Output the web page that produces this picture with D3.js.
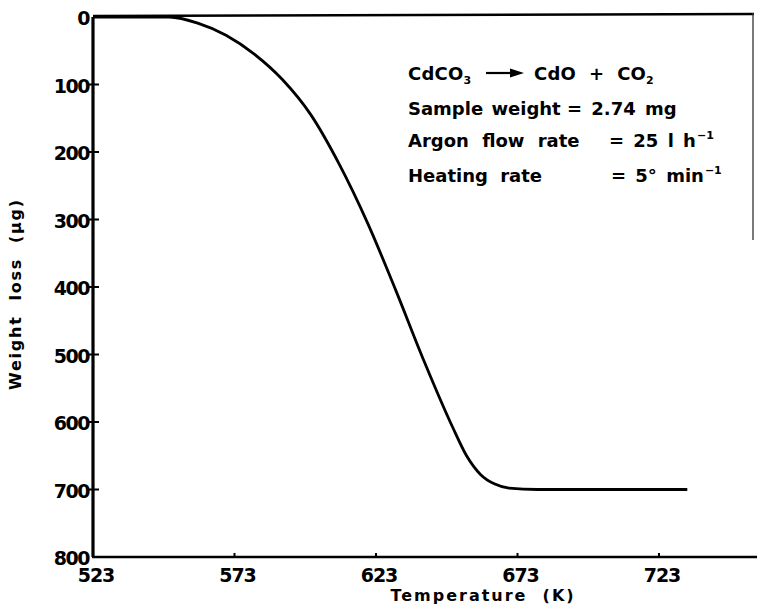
<!DOCTYPE html>
<html>
<head>
<meta charset="utf-8">
<script src="https://cdn.jsdelivr.net/npm/d3@7"></script>
<style>
  html, body { margin: 0; padding: 0; background: #fff; }
  svg { display: block; }
  text { font-family: "DejaVu Sans", sans-serif; font-weight: bold; fill: #000; }
</style>
</head>
<body>
<svg id="chart" width="757" height="607"></svg>
<script>
// ---- data ----
const temperature = [523, 550, 560, 570, 580, 590, 600, 610, 620, 630, 640, 650, 655, 660, 665, 670, 680, 700, 733];
const weightLoss  = [0,   0,   9,   27,  55,  93,  145, 218, 305, 405, 510, 607, 650, 678, 692, 698, 700, 700, 700];
const xTicks = [523, 573, 623, 673, 723];
const yTicks = [0, 100, 200, 300, 400, 500, 600, 700, 800];
const xTitle = "Temperature  (K)";
const yTitle = "Weight  loss  (\u03bcg)";
const infoLabels = ["Sample weight", "Argon flow rate", "Heating rate"];
const infoValues = ["= 2.74 mg", "= 25 l h", "= 5\u00b0 min"];
const infoSups = ["", "\u22121", "\u22121"];

// ---- layout ----
const svg = d3.select("#chart");
const x = d3.scaleLinear().domain([523, 723]).range([93, 659]);
const y = d3.scaleLinear().domain([0, 800]).range([17, 557]);

// frame: top line and partial right line
svg.append("line").attr("x1", x(523)).attr("x2", 754).attr("y1", y(0) - 1).attr("y2", y(0) - 3)
  .attr("stroke", "#000").attr("stroke-width", 2.5);
svg.append("line").attr("x1", 753).attr("x2", 753).attr("y1", y(0) - 4).attr("y2", 240)
  .attr("stroke", "#333").attr("stroke-width", 1.3);

// y axis
svg.append("line").attr("x1", x(523)).attr("x2", x(523)).attr("y1", y(0)).attr("y2", y(800))
  .attr("stroke", "#000").attr("stroke-width", 3.2);
const yg = svg.append("g");
yg.selectAll("line.tick").data(yTicks.filter(d => d > 0 && d < 800)).enter().append("line")
  .attr("x1", x(523) - 4).attr("x2", x(523) + 6)
  .attr("y1", d => y(d)).attr("y2", d => y(d))
  .attr("stroke", "#000").attr("stroke-width", 2);
yg.selectAll("text").data(yTicks).enter().append("text")
  .attr("x", x(523) - 4).attr("y", d => y(d) + 8)
  .attr("text-anchor", "end").attr("font-size", 19).attr("letter-spacing", -1.5)
  .text(d => d);

// x axis
svg.append("line").attr("x1", x(523) - 1).attr("x2", 757).attr("y1", y(800)).attr("y2", y(800))
  .attr("stroke", "#000").attr("stroke-width", 2.5);
const xg = svg.append("g");
xg.selectAll("line.tick").data(xTicks.filter(d => d > 523)).enter().append("line")
  .attr("x1", d => x(d)).attr("x2", d => x(d))
  .attr("y1", y(800) - 4).attr("y2", y(800))
  .attr("stroke", "#000").attr("stroke-width", 2);
xg.selectAll("text").data(xTicks).enter().append("text")
  .attr("x", d => x(d) + 3).attr("y", y(800) + 25)
  .attr("text-anchor", "middle").attr("font-size", 19).attr("letter-spacing", -1)
  .text(d => d);

// axis titles
svg.append("text").attr("x", 483).attr("y", 601).attr("text-anchor", "middle")
  .attr("font-size", 16).attr("letter-spacing", 2)
  .style("white-space", "pre").text(xTitle);
svg.append("text").attr("transform", "translate(21,294) rotate(-90)").attr("text-anchor", "middle")
  .attr("font-size", 16).attr("letter-spacing", 1.8)
  .style("white-space", "pre").text(yTitle);

// curve
const pts = temperature.map((t, i) => [t, weightLoss[i]]);
svg.append("path").datum(pts)
  .attr("fill", "none").attr("stroke", "#000").attr("stroke-width", 2.8)
  .attr("d", d3.line().x(d => x(d[0])).y(d => y(d[1])).curve(d3.curveMonotoneX));

// annotation
const ann = svg.append("g");
const eq = ann.append("text").attr("x", 408).attr("y", 80).attr("font-size", 18).attr("letter-spacing", 0.2);
eq.append("tspan").text("CdCO");
eq.append("tspan").attr("font-size", 11).attr("dy", 4).text("3");
ann.append("line").attr("x1", 486).attr("x2", 513).attr("y1", 73).attr("y2", 73)
  .attr("stroke", "#000").attr("stroke-width", 2.2);
ann.append("path").attr("d", "M510,68.5 L524,73 L510,77.5 Z").attr("fill", "#000");
const eq2 = ann.append("text").attr("x", 534).attr("y", 80).attr("font-size", 18).attr("letter-spacing", 0.2)
  .style("white-space", "pre");
eq2.append("tspan").text("CdO  +  CO");
eq2.append("tspan").attr("font-size", 11).attr("dy", 4).text("2");

const lineY = [115, 147, 182];
const valueX = [567, 609, 611];
const labelWordSpacing = [2, 7, 6];
infoLabels.forEach((lab, i) => {
  ann.append("text").attr("x", 408).attr("y", lineY[i]).attr("font-size", 18)
    .attr("word-spacing", labelWordSpacing[i]).text(lab);
  const v = ann.append("text").attr("x", valueX[i]).attr("y", lineY[i]).attr("font-size", 18)
    .attr("word-spacing", 3).style("white-space", "pre");
  v.append("tspan").text(infoValues[i]);
  if (infoSups[i]) v.append("tspan").attr("font-size", 11).attr("dy", -8).attr("dx", 1).text(infoSups[i]);
});
</script>
</body>
</html>
